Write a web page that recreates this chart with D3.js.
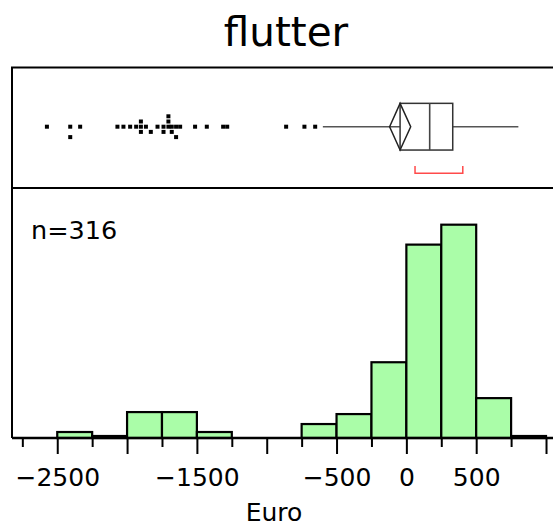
<!DOCTYPE html>
<html><head><meta charset="utf-8">
<script src="https://cdn.jsdelivr.net/npm/d3@7"></script>
<style>body{margin:0;background:#fff}svg{display:block}text{font-family:"DejaVu Sans",sans-serif}</style>
</head><body><svg id="c" width="553" height="527"></svg>
<script>
// ---- data ----
const title = "flutter";
const xLabel = "Euro";
const nLabel = "n=316";
const binStarts = [-2500,-2250,-2000,-1750,-1500,-1250,-1000,-750,-500,-250,0,250,500,750];
const binWidth = 250;
const counts    = [3, 1, 13, 13, 3, 0, 0, 7, 12, 38, 97, 107, 20, 1];
const tickMajor = [-2500,-2000,-1500,-1000,-500,0,500,1000];
const tickMinor = [-2750,-2250,-1750,-1250,-750,-250,250,750];
const tickLabels = {"-2500":"\u22122500","-1500":"\u22121500","-500":"\u2212500","0":"0","500":"500"};
// box plot summary
const q1 = -45, median = 167, q3 = 332, whiskerLo = -598, whiskerHi = 802;
const meanVal = -45, ciLo = -120, ciHi = 31;
const shortestHalf = [62, 404];
// outliers: value, stack level
const outlierVals = [-2574,-2407,-2407,-2336,-2069,-2026,-1978,-1935,-1901,-1901,-1901,-1865,-1830,-1782,-1739,-1739,-1704,-1704,-1704,-1680,-1680,-1649,-1649,-1620,-1513,-1429,-1312,-1283,-861,-730,-653];
const outlierLvl  = [0,0,2,0,0,0,0,0,-1,0,1,0,1,0,0,1,-2,-1,0,0,1,0,2,0,0,0,0,0,0,0,0];

// ---- layout ----
const svg = d3.select("#c");
const L = 12, R = 553, frameTop = 67.5, sep = 188, base = 438;
const x = d3.scaleLinear().domain([-2824, 1050]).range([L, R]);
const y = d3.scaleLinear().domain([0, 125.4]).range([base, sep]);
const cy = 126.7, boxH = 46.7;
const lvl = d3.scaleLinear().domain([0, 1]).range([cy, cy + 5.2]);

// title
svg.append("text").attr("x", 286).attr("y", 46).attr("text-anchor","middle")
  .style("font-size","40.5px").text(title);

// histogram bars
svg.append("g").selectAll("rect").data(binStarts).join("rect")
  .attr("x", d => x(d)).attr("width", d => x(d + binWidth) - x(d))
  .attr("y", (d,i) => y(counts[i])).attr("height", (d,i) => y(0) - y(counts[i]))
  .attr("fill", "#aafda8").attr("stroke", "#000").attr("stroke-width", 2.2)
  .style("display", (d,i) => counts[i] > 0 ? null : "none");

// frame
svg.append("path").attr("d", `M${R+5},${frameTop}H${L}V${base}`).attr("fill","none").attr("stroke","#000").attr("stroke-width",2);
svg.append("line").attr("x1", L).attr("x2", R+5).attr("y1", sep).attr("y2", sep).attr("stroke","#000").attr("stroke-width",2);

// axes
const gMinor = svg.append("g").attr("transform", `translate(0,${base})`)
  .call(d3.axisBottom(x).tickValues(tickMinor).tickSize(9).tickFormat(""));
const gMajor = svg.append("g").attr("transform", `translate(0,${base})`)
  .call(d3.axisBottom(x).tickValues(tickMajor).tickSize(16)
    .tickFormat(d => tickLabels[String(d)] || ""));
[gMinor, gMajor].forEach(g => {
  g.select(".domain").remove();
  g.selectAll(".tick line").attr("stroke","#000").attr("stroke-width",2);
});
gMajor.selectAll(".tick text").style("font-size","25px").attr("fill","#000").attr("dy", null).attr("y", 48);
svg.append("line").attr("x1", L).attr("x2", R).attr("y1", base).attr("y2", base).attr("stroke","#000").attr("stroke-width",2.5);

svg.append("text").attr("x", 274).attr("y", 521).attr("text-anchor","middle").style("font-size","25px").text(xLabel);
svg.append("text").attr("x", 31).attr("y", 239).style("font-size","25.5px").text(nLabel);

// box plot
const bp = svg.append("g");
bp.append("line").attr("x1", x(whiskerLo)).attr("x2", x(q1)).attr("y1", cy).attr("y2", cy).attr("stroke","#555").attr("stroke-width",1.6);
bp.append("line").attr("x1", x(q3)).attr("x2", x(whiskerHi)).attr("y1", cy).attr("y2", cy).attr("stroke","#555").attr("stroke-width",1.6);
bp.append("rect").attr("x", x(q1)).attr("width", x(q3) - x(q1)).attr("y", cy - boxH/2).attr("height", boxH)
  .attr("fill","none").attr("stroke","#333").attr("stroke-width",1.5);
bp.append("line").attr("x1", x(median)).attr("x2", x(median)).attr("y1", cy - boxH/2).attr("y2", cy + boxH/2).attr("stroke","#444").attr("stroke-width",1.6);
bp.append("path").attr("d", `M${x(ciLo)},${cy}L${x(meanVal)},${cy-boxH/2}L${x(ciHi)},${cy}L${x(meanVal)},${cy+boxH/2}Z`)
  .attr("fill","none").attr("stroke","#222").attr("stroke-width",1.5);
bp.append("path").attr("d", `M${x(shortestHalf[0])},166V173.3H${x(shortestHalf[1])}V166`)
  .attr("fill","none").attr("stroke","#ff4a4a").attr("stroke-width",1.5);
bp.append("g").selectAll("rect").data(outlierVals).join("rect")
  .attr("x", d => x(d) - 2).attr("y", (d,i) => lvl(outlierLvl[i]) - 2).attr("width", 4).attr("height", 4).attr("fill","#000");
</script></body></html>
